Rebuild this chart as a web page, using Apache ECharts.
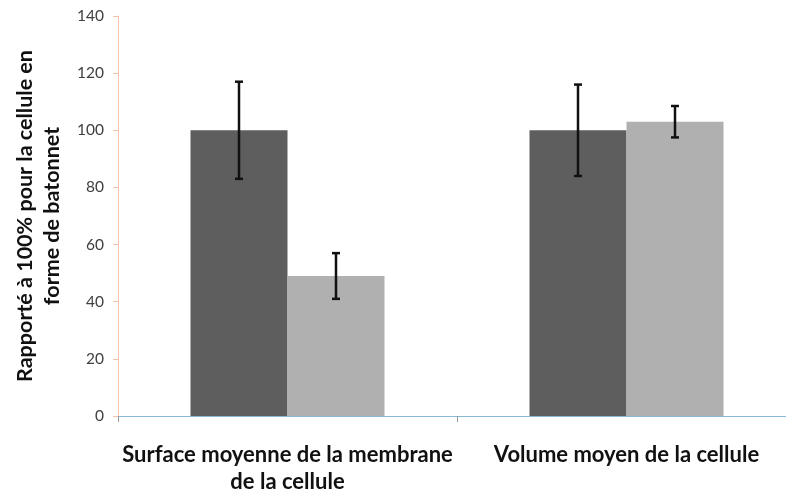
<!DOCTYPE html>
<html>
<head>
<meta charset="utf-8">
<title>Surface et volume de la cellule</title>
<script src="https://cdn.jsdelivr.net/npm/echarts@6/dist/echarts.min.js"></script>
<style>
  html, body { margin: 0; padding: 0; background: #ffffff; }
  #chart { width: 786px; height: 493px; }
</style>
</head>
<body>
<div id="chart"></div>
<script>
// Categories along the x axis
const categories = ['Surface moyenne de la membrane\nde la cellule', 'Volume moyen de la cellule'];
// Mean values (% relative to the rod-shaped cell)
const rodValues = [100, 100];
const otherValues = [49, 103];
// Error bar bounds [low, high]
const rodErrors = [[83, 117], [84, 116]];
const otherErrors = [[41, 57], [97.5, 108.5]];
// Y axis scale
const yMin = 0, yMax = 140, yStep = 20;

const chart = echarts.init(document.getElementById('chart'));

const FONT = 'Lato, "Open Sans", sans-serif';
const BAR_W = 97;

// Draws an error bar centred on one of the two bars of a group
function errorRenderer(seriesOffset) {
  return function (params, api) {
    const xIdx = api.value(0);
    const low = api.coord([xIdx, api.value(1)]);
    const high = api.coord([xIdx, api.value(2)]);
    const x = low[0] + seriesOffset * BAR_W / 2;
    const cap = 4;
    const style = { stroke: '#111111', lineWidth: 2.5 };
    return {
      type: 'group',
      children: [
        { type: 'line', shape: { x1: x, y1: high[1], x2: x, y2: low[1] }, style },
        { type: 'line', shape: { x1: x - cap, y1: high[1], x2: x + cap, y2: high[1] }, style },
        { type: 'line', shape: { x1: x - cap, y1: low[1], x2: x + cap, y2: low[1] }, style }
      ]
    };
  };
}

chart.setOption({
  animation: false,
  backgroundColor: '#ffffff',
  grid: { left: 118, top: 16, width: 678, height: 400, containLabel: false, outerBoundsMode: 'none' },
  xAxis: {
    type: 'category',
    data: categories,
    boundaryGap: true,
    axisLine: { lineStyle: { color: '#86b8d8', width: 1 } },
    axisTick: { show: true, length: 6, lineStyle: { color: '#999999' } },
    axisLabel: {
      interval: 0,
      margin: 25,
      color: '#111111',
      fontFamily: FONT,
      fontWeight: 'bold',
      fontSize: 22,
      lineHeight: 27
    }
  },
  yAxis: {
    type: 'value',
    min: yMin,
    max: yMax,
    interval: yStep,
    name: 'Rapporté à 100% pour la cellule en\nforme de batonnet',
    nameLocation: 'middle',
    nameGap: 52,
    nameTextStyle: {
      color: '#111111',
      fontFamily: FONT,
      fontWeight: 'bold',
      fontSize: 21.5,
      lineHeight: 27
    },
    axisLine: { show: true, lineStyle: { color: '#f2c4ac', width: 1 } },
    axisTick: { show: true, length: 5, lineStyle: { color: '#f2c4ac' } },
    axisLabel: {
      margin: 14,
      color: '#404040',
      fontFamily: FONT,
      fontSize: 15.5
    },
    splitLine: { show: false }
  },
  series: [
    {
      type: 'bar',
      data: rodValues,
      barWidth: BAR_W,
      barGap: '0%',
      itemStyle: { color: '#5e5e5e' }
    },
    {
      type: 'bar',
      data: otherValues,
      barWidth: BAR_W,
      barGap: '0%',
      itemStyle: { color: '#b0b0b0' }
    },
    {
      type: 'custom',
      renderItem: errorRenderer(-1),
      data: rodErrors.map((e, i) => [i, e[0], e[1]]),
      encode: { x: 0, y: [1, 2] },
      z: 10
    },
    {
      type: 'custom',
      renderItem: errorRenderer(1),
      data: otherErrors.map((e, i) => [i, e[0], e[1]]),
      encode: { x: 0, y: [1, 2] },
      z: 10
    }
  ]
});
</script>
</body>
</html>
